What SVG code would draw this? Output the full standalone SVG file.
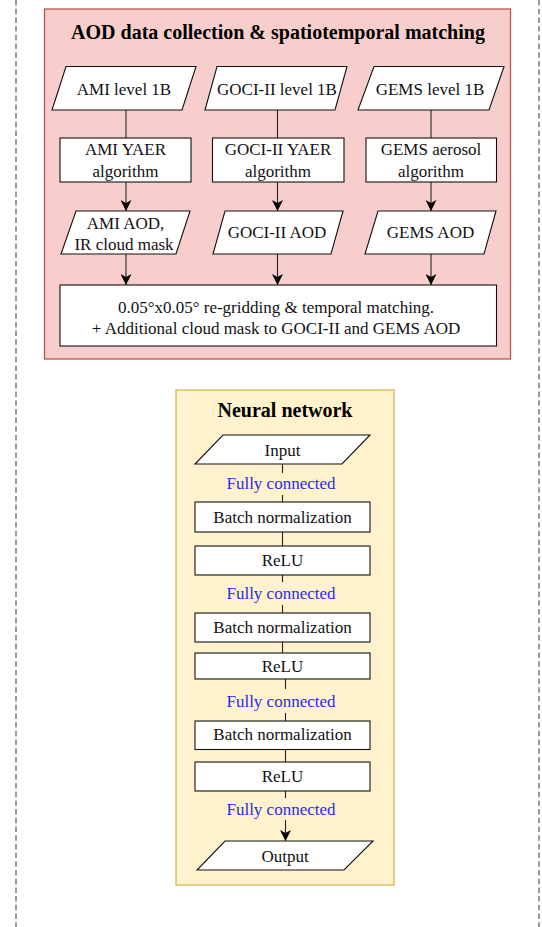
<svg xmlns="http://www.w3.org/2000/svg" width="542" height="927" viewBox="0 0 542 927">
<style>
  .t { font-family: "Liberation Serif", "Times New Roman", serif; font-size: 17px; fill: #111; text-anchor: middle; }
  .title { font-family: "Liberation Serif", "Times New Roman", serif; font-size: 20px; font-weight: bold; fill: #000; text-anchor: middle; }
  .fc { font-family: "Liberation Serif", "Times New Roman", serif; font-size: 17px; fill: #2a2af0; text-anchor: middle; }
  .node { fill: #ffffff; stroke: #111; stroke-width: 1.1; }
  .conn { stroke: #222; stroke-width: 1.1; fill: none; }
  .border { stroke: #7a7a7a; stroke-width: 1.5; stroke-dasharray: 5.5 3.2; fill: none; }
</style>
<defs>
  <marker id="arr" viewBox="0 0 11 11" refX="11" refY="5.5" markerWidth="11" markerHeight="11" markerUnits="userSpaceOnUse" orient="auto">
    <path d="M0,0 L11,5.5 L0,11 L3,5.5 Z" fill="#000"/>
  </marker>
</defs>
<rect width="542" height="927" fill="#ffffff"/>
<g id="page-border">
  <line class="border" x1="16" y1="0" x2="16" y2="927"/>
  <line class="border" x1="539" y1="0" x2="539" y2="927"/>
</g>
<g id="aod-container">
  <rect x="44.5" y="9" width="466" height="350" fill="#f8cecc" stroke="#b85450" stroke-width="1.3"/>
  <text class="title" x="278" y="38.5">AOD data collection &amp; spatiotemporal matching</text>
</g>
<g id="nn-container">
  <rect x="176" y="390" width="218" height="495" fill="#fff2cc" stroke="#d6b656" stroke-width="1.3"/>
  <text class="title" x="285" y="417">Neural network</text>
</g>
<g id="connectors">
  <line class="conn" x1="126" y1="110" x2="126" y2="138"/>
  <line class="conn" x1="277.5" y1="110" x2="277.5" y2="138"/>
  <line class="conn" x1="431" y1="110" x2="431" y2="138"/>
  <line class="conn" x1="126" y1="182" x2="126" y2="211" marker-end="url(#arr)"/>
  <line class="conn" x1="277.5" y1="182" x2="277.5" y2="211" marker-end="url(#arr)"/>
  <line class="conn" x1="431" y1="182" x2="431" y2="211" marker-end="url(#arr)"/>
  <line class="conn" x1="126" y1="254" x2="126" y2="285" marker-end="url(#arr)"/>
  <line class="conn" x1="277.5" y1="254" x2="277.5" y2="285" marker-end="url(#arr)"/>
  <line class="conn" x1="431" y1="254" x2="431" y2="285" marker-end="url(#arr)"/>
  <line class="conn" x1="282.5" y1="464" x2="282.5" y2="473"/>
  <line class="conn" x1="282.5" y1="495" x2="282.5" y2="502"/>
  <line class="conn" x1="282.5" y1="532" x2="282.5" y2="546"/>
  <line class="conn" x1="282.5" y1="575" x2="282.5" y2="582"/>
  <line class="conn" x1="282.5" y1="605" x2="282.5" y2="613"/>
  <line class="conn" x1="282.5" y1="642" x2="282.5" y2="653"/>
  <line class="conn" x1="285.5" y1="679" x2="285.5" y2="689"/>
  <line class="conn" x1="285.5" y1="713" x2="285.5" y2="721"/>
  <line class="conn" x1="285.5" y1="749" x2="285.5" y2="762"/>
  <line class="conn" x1="285.5" y1="791" x2="285.5" y2="798"/>
  <line class="conn" x1="285.5" y1="820" x2="285.5" y2="841" marker-end="url(#arr)"/>
  <text class="fc" x="281" y="488.5">Fully connected</text>
  <text class="fc" x="281" y="599">Fully connected</text>
  <text class="fc" x="281" y="707">Fully connected</text>
  <text class="fc" x="281" y="815">Fully connected</text>
</g>
<g id="ami-l1b">
  <polygon class="node" points="66,66.5 196,66.5 182,110 52,110"/>
  <text class="t" x="124" y="94.5">AMI level 1B</text>
</g>
<g id="goci-l1b">
  <polygon class="node" points="217,66.5 347,66.5 335,110 205,110"/>
  <text class="t" x="277" y="94.5">GOCI-II level 1B</text>
</g>
<g id="gems-l1b">
  <polygon class="node" points="374,66.5 504,66.5 489,110 358,110"/>
  <text class="t" x="430" y="94.5">GEMS level 1B</text>
</g>
<g id="ami-yaer">
  <rect class="node" x="60" y="138" width="131" height="44"/>
  <text class="t" x="125.5" y="155">AMI YAER</text>
  <text class="t" x="125.5" y="176.5">algorithm</text>
</g>
<g id="goci-yaer">
  <rect class="node" x="212.5" y="138" width="131.5" height="44"/>
  <text class="t" x="278" y="155">GOCI-II YAER</text>
  <text class="t" x="278" y="176.5">algorithm</text>
</g>
<g id="gems-aerosol">
  <rect class="node" x="366" y="138" width="130.5" height="44"/>
  <text class="t" x="431" y="155">GEMS aerosol</text>
  <text class="t" x="431" y="176.5">algorithm</text>
</g>
<g id="ami-aod">
  <polygon class="node" points="76,211 190,211 176,254 61,254"/>
  <text class="t" x="125.5" y="228.5">AMI AOD,</text>
  <text class="t" x="124" y="250">IR cloud mask</text>
</g>
<g id="goci-aod">
  <polygon class="node" points="225,211 343,211 331,254 213,254"/>
  <text class="t" x="277" y="237.5">GOCI-II AOD</text>
</g>
<g id="gems-aod">
  <polygon class="node" points="378,211 496,211 484,254 365,254"/>
  <text class="t" x="430.5" y="237.5">GEMS AOD</text>
</g>
<g id="regrid">
  <rect class="node" x="60" y="285" width="436.5" height="61"/>
  <text class="t" x="276" y="313">0.05°x0.05° re-gridding &amp; temporal matching.</text>
  <text class="t" x="276" y="333.5">+ Additional cloud mask to GOCI-II and GEMS AOD</text>
</g>
<g id="input">
  <polygon class="node" points="223,435 370,435 342,464 195,464"/>
  <text class="t" x="282.5" y="456">Input</text>
</g>
<g id="bn1">
  <rect class="node" x="195" y="502" width="175" height="30"/>
  <text class="t" x="282.5" y="522.5">Batch normalization</text>
</g>
<g id="relu1">
  <rect class="node" x="195" y="546" width="175" height="29"/>
  <text class="t" x="282.5" y="566">ReLU</text>
</g>
<g id="bn2">
  <rect class="node" x="195" y="613" width="175" height="29"/>
  <text class="t" x="282.5" y="633">Batch normalization</text>
</g>
<g id="relu2">
  <rect class="node" x="195" y="653" width="175" height="26"/>
  <text class="t" x="282.5" y="672">ReLU</text>
</g>
<g id="bn3">
  <rect class="node" x="195" y="721" width="175" height="28.5"/>
  <text class="t" x="282.5" y="740">Batch normalization</text>
</g>
<g id="relu3">
  <rect class="node" x="195" y="762" width="175" height="29"/>
  <text class="t" x="282.5" y="781.5">ReLU</text>
</g>
<g id="output">
  <polygon class="node" points="225,841 373,841 344,870 197,870"/>
  <text class="t" x="285" y="861.5">Output</text>
</g>
</svg>
